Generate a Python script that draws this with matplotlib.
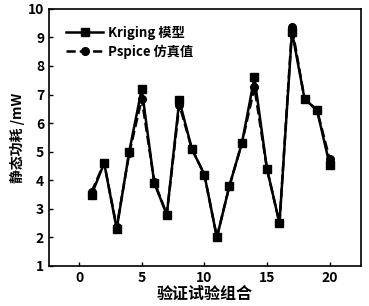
import matplotlib
matplotlib.use("Agg")
from matplotlib import pyplot as plt

plt.rcParams['font.family'] = ['Noto Sans CJK SC', 'DejaVu Sans']

groups = list(range(1, 21))
kriging = [3.5, 4.6, 2.3, 5.0, 7.2, 3.9, 2.8, 6.8, 5.1, 4.2,
           2.0, 3.8, 5.3, 7.6, 4.4, 2.5, 9.2, 6.85, 6.45, 4.55]
pspice = [3.6, 4.6, 2.35, 4.95, 6.85, 3.95, 2.8, 6.65, 5.1, 4.2,
          2.0, 3.8, 5.3, 7.25, 4.4, 2.5, 9.35, 6.85, 6.45, 4.75]
xticks = [0, 5, 10, 15, 20]
yticks = list(range(1, 11))

fig = plt.figure(figsize=(3.69, 3.06), dpi=100)
ax = fig.add_axes([0.133, 0.131, 0.845, 0.84])

ax.plot(groups, kriging, '-s', color='black', lw=1.8, ms=5.5, label='Kriging 模型')
ax.plot(groups, pspice, '--o', color='black', lw=1.8, ms=5.5, label='Pspice 仿真值')

ax.set_xlim(-2.4, 22.5)
ax.set_ylim(1, 10)
ax.set_xticks(xticks)
ax.set_yticks(yticks)
ax.tick_params(direction='in', length=3, width=1)
for lbl in ax.get_xticklabels():
    lbl.set_fontstyle('italic')
    lbl.set_fontweight('bold')
    lbl.set_fontsize(10)
for lbl in ax.get_yticklabels():
    lbl.set_fontweight('bold')
    lbl.set_fontsize(10)
for s in ax.spines.values():
    s.set_linewidth(1.2)

ax.set_xlabel('验证试验组合', fontsize=11.5, fontweight='bold', labelpad=1)
ax.set_ylabel('静态功耗 /mW', fontsize=10, fontweight='bold', labelpad=2)

leg = ax.legend(loc='upper left', frameon=False, handlelength=2.8,
                borderaxespad=0.9, labelspacing=0.35, handletextpad=0.4,
                prop={'weight': 'bold', 'size': 9.5})

fig.savefig('out.png', dpi=100)
